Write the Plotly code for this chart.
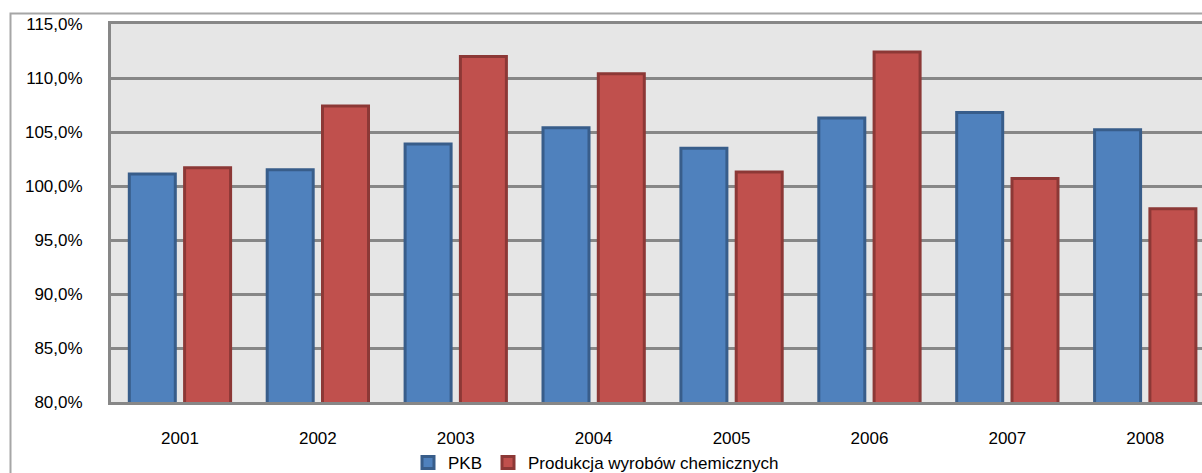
import plotly.graph_objects as go

# Data
years = ["2001", "2002", "2003", "2004", "2005", "2006", "2007", "2008"]
pkb = [101.1, 101.5, 103.9, 105.4, 103.5, 106.3, 106.8, 105.2]
chem = [101.7, 107.4, 112.0, 110.4, 101.3, 112.4, 100.7, 97.9]
y_ticks = [80, 85, 90, 95, 100, 105, 110, 115]
y_tick_text = ["80,0%", "85,0%", "90,0%", "95,0%", "100,0%", "105,0%", "110,0%", "115,0%"]

W, H = 1202, 473
ML, MT, MB, MR = 111, 24, 71, 0
plot_w = W - ML - MR
plot_h = H - MT - MB
band = 137.9  # px per category

GRID = "#878787"
FONT = "Liberation Sans, Arial, sans-serif"

fig = go.Figure()
fig.add_trace(go.Bar(
    x=years, y=pkb, name="PKB", legend="legend",
    marker=dict(color="#4F81BD", line=dict(color="#385D8A", width=3)),
))
fig.add_trace(go.Bar(
    x=years, y=chem, name="Produkcja wyrobów chemicznych", legend="legend2",
    marker=dict(color="#C0504D", line=dict(color="#8C3836", width=3)),
))


def px_x(p):
    return (p - ML) / plot_w


def px_y(p):
    return (H - MB - p) / plot_h


# outer chart frame
fig.add_shape(type="rect", xref="paper", yref="paper",
              x0=px_x(10.5), x1=px_x(W + 30), y0=px_y(H + 30), y1=px_y(13.5),
              line=dict(color="#A6A6A6", width=2), fillcolor="rgba(0,0,0,0)",
              layer="below")

legend_common = dict(
    orientation="h", xanchor="left", yanchor="middle",
    font=dict(family=FONT, size=17, color="#000000"),
    itemclick=False, bgcolor="rgba(0,0,0,0)",
)

fig.update_layout(
    width=W, height=H,
    margin=dict(l=ML, r=MR, t=MT, b=MB, pad=0, autoexpand=False),
    paper_bgcolor="white",
    plot_bgcolor="#E6E6E6",
    barmode="group",
    bargap=0.198,
    bargroupgap=0.168,
    font=dict(family=FONT, size=17, color="#000000"),
    showlegend=True,
    legend=dict(x=px_x(408), y=px_y(463), **legend_common),
    legend2=dict(x=px_x(488), y=px_y(463), **legend_common),
    xaxis=dict(
        type="category",
        range=[-0.5, -0.5 + plot_w / band],
        showline=True, mirror=True, linecolor=GRID, linewidth=3,
        showgrid=False, ticks="", ticklabelstandoff=19,
        tickfont=dict(size=17),
    ),
    yaxis=dict(
        range=[80, 115],
        tickvals=y_ticks, ticktext=y_tick_text,
        showline=True, mirror=False, linecolor=GRID, linewidth=3,
        showgrid=True, gridcolor=GRID, gridwidth=3,
        zeroline=False, ticks="", ticklabelstandoff=22,
        tickfont=dict(size=17),
    ),
)

fig.write_html("out.html")
